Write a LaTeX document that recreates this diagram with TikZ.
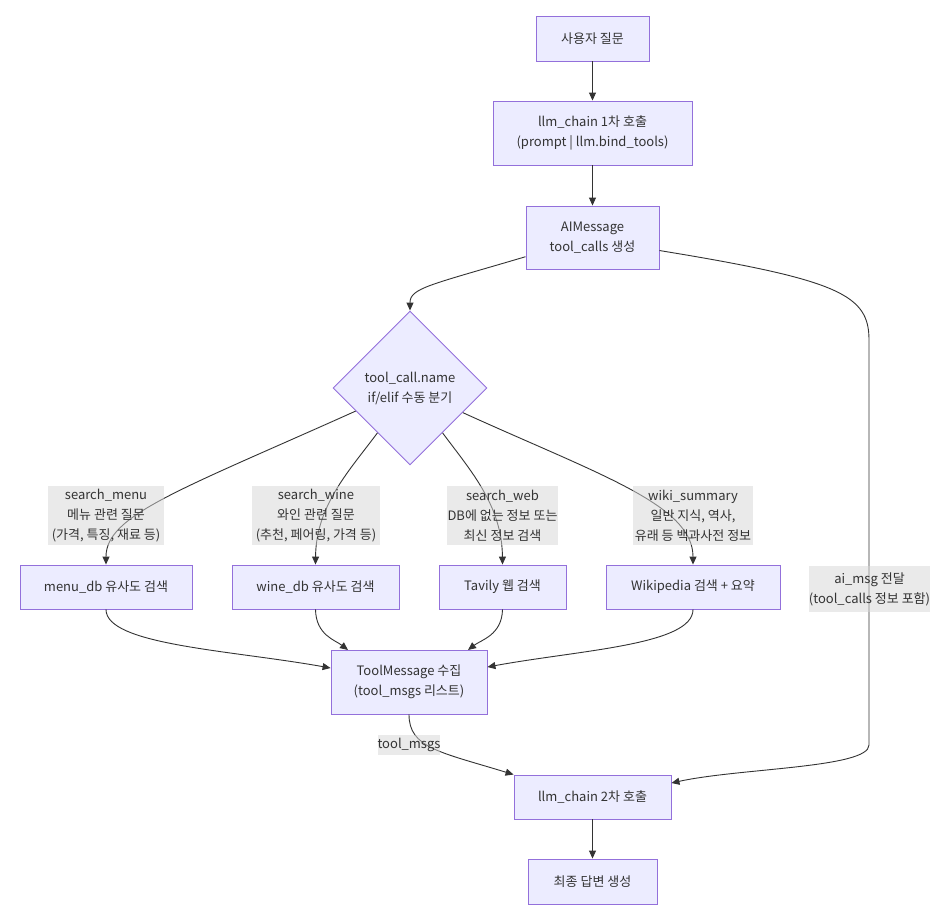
\documentclass[tikz,border=0pt]{standalone}
\usepackage{fontspec}
\setmainfont{Noto Sans CJK KR}
\usetikzlibrary{shapes.geometric,arrows.meta}
\definecolor{mpurple}{HTML}{9370DB}
\definecolor{mfill}{HTML}{ECECFF}
\definecolor{mtext}{HTML}{333333}
\definecolor{medge}{HTML}{333333}
\definecolor{lblfill}{HTML}{D6D6D6}
\begin{document}
\begin{tikzpicture}[x=1pt,y=-1pt,
  box/.style={draw=mpurple, fill=mfill, line width=0.9pt, text=mtext, align=center, inner sep=0pt,
    font=\fontsize{13}{20}\selectfont},
  dia/.style={diamond, shape aspect=1, draw=mpurple, fill=mfill, line width=0.9pt, text=mtext, align=center,
    inner sep=0pt, minimum width=154pt, minimum height=154pt, font=\fontsize{13}{20}\selectfont},
  lbl/.style={fill=lblfill, fill opacity=0.5, text opacity=1, text=mtext, align=center, inner sep=0pt,
    font=\fontsize{13}{20}\selectfont},
  edge/.style={draw=medge, line width=0.9pt, -{Triangle[length=8pt,width=7pt]}},
  plain/.style={draw=medge, line width=0.9pt}
]
\useasboundingbox (0,0) rectangle (947,919);
\fill[white] (0,0) rectangle (947,919);

% nodes
\node[box, minimum width=113pt, minimum height=45pt] (n1) at (592.5,38.5) {사용자 질문};
\node[box, minimum width=199pt, minimum height=64pt] (n2) at (592.5,133) {llm\_chain 1차 호출\\(prompt | llm.bind\_tools)};
\node[box, minimum width=133pt, minimum height=63pt] (n3) at (592.5,237.5) {AIMessage\\tool\_calls 생성};
\node[dia] (d) at (410,388) {tool\_call.name\\if/elif 수동 분기};
\node[box, minimum width=172pt, minimum height=44pt] (m) at (106,587) {menu\_db 유사도 검색};
\node[box, minimum width=167pt, minimum height=44pt] (w) at (315.5,587) {wine\_db 유사도 검색};
\node[box, minimum width=127pt, minimum height=44pt] (t) at (502.5,587) {Tavily 웹 검색};
\node[box, minimum width=174pt, minimum height=44pt] (k) at (693,587) {Wikipedia 검색 + 요약};
\node[box, minimum width=156pt, minimum height=64pt] (tm) at (409,682) {ToolMessage 수집\\(tool\_msgs 리스트)};
\node[box, minimum width=157pt, minimum height=44pt] (l2) at (592.5,797) {llm\_chain 2차 호출};
\node[box, minimum width=129pt, minimum height=45pt] (f) at (592.5,881.5) {최종 답변 생성};

\coordinate (a1) at (869,340);
\coordinate (a2) at (869,745);

% edges
\draw[edge] (n1) -- (n2);
\draw[edge] (n2) -- (n3);
\draw[edge] (n3.196) .. controls (430,285) and (410,288) .. (d.north);
\draw[plain] (n3.-11) .. controls (840,280) and (869,295) .. (a1) -- (a2);
\draw[edge] (a2) .. controls (869,768) and (740,768) .. (l2.east|-0,783);
\draw[edge] (d.203) .. controls (180,490) and (106,515) .. (m.north);
\draw[edge] (d.234) .. controls (350,470) and (316,505) .. (w.north);
\draw[edge] (d.306) .. controls (470,470) and (502,505) .. (t.north);
\draw[edge] (d.335) .. controls (600,475) and (693,505) .. (k.north);
\draw[edge] (m.south) .. controls (106,645) and (230,650) .. (tm.west|-0,668);
\draw[edge] (w.south) .. controls (316,635) and (335,640) .. (348,650);
\draw[edge] (t.south) .. controls (502,635) and (481,640) .. (468,650);
\draw[edge] (k.south) .. controls (693,645) and (580,650) .. (tm.east|-0,667);
\draw[edge] (tm.south) .. controls (409,748) and (440,752) .. (l2.north west);
\draw[edge] (l2) -- (f);

% labels
\node[lbl, minimum width=116pt, minimum height=59pt] (lm) at (106,515.5) {search\_menu\\메뉴 관련 질문\\(가격, 특징, 재료 등)};
\node[lbl, minimum width=128pt, minimum height=59pt] (lw) at (316,515.5) {search\_wine\\와인 관련 질문\\(추천, 페어링, 가격 등)};
\node[lbl, minimum width=111pt, minimum height=59pt] (lt) at (502.5,515.5) {search\_web\\DB에 없는 정보 또는\\최신 정보 검색};
\node[lbl, minimum width=120pt, minimum height=59pt] (lk) at (693,515.5) {wiki\_summary\\일반 지식, 역사,\\유래 등 백과사전 정보};
\node[lbl, minimum width=121pt, minimum height=46pt] (la) at (869.5,589) {ai\_msg 전달\\(tool\_calls 정보 포함)};
\node[lbl, minimum width=58pt, minimum height=20pt] (lt2) at (409,745) {tool\_msgs};
\end{tikzpicture}
\end{document}
